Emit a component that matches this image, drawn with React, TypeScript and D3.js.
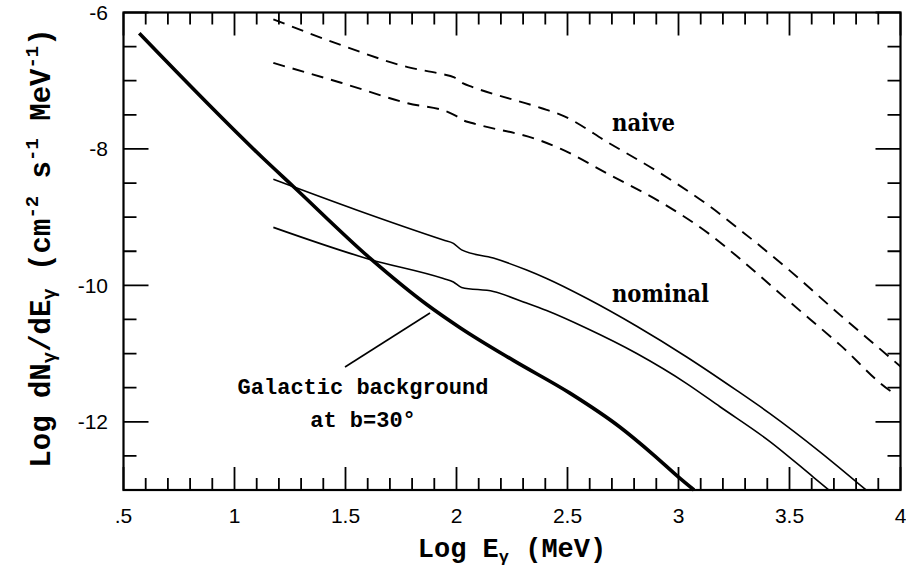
import React from 'react'
import * as d3 from 'd3'

// log E (MeV), log flux
const galactic: [number, number][] = [
  [0.571, -6.305], [1.13, -8.14], [1.265, -8.55], [1.61, -9.6], [1.866, -10.28],
  [2.016, -10.62], [2.256, -11.1], [2.511, -11.58], [2.737, -12.08], [2.886, -12.48],
  [3.007, -12.83], [3.07, -13.0],
]
const nominalUpper: [number, number][] = [
  [1.175, -8.446], [1.55, -8.896], [1.941, -9.336], [1.986, -9.384], [2.023, -9.48],
  [2.166, -9.6], [2.316, -9.776], [2.406, -9.9], [2.586, -10.19], [2.812, -10.6],
  [3.037, -11.05], [3.262, -11.54], [3.412, -11.88], [3.637, -12.44], [3.845, -13.0],
]
const nominalLower: [number, number][] = [
  [1.175, -9.15], [1.61, -9.62], [1.941, -9.9], [1.986, -9.95], [2.023, -10.03],
  [2.166, -10.09], [2.316, -10.26], [2.406, -10.37], [2.586, -10.63], [2.812, -11.0],
  [3.037, -11.44], [3.187, -11.78], [3.412, -12.29], [3.607, -12.81], [3.678, -13.0],
]
const naiveUpper: [number, number][] = [
  [1.175, -6.1], [1.5, -6.5], [1.78, -6.8], [1.93, -6.9], [1.99, -6.95], [2.03, -7.04],
  [2.07, -7.09], [2.38, -7.4], [2.47, -7.5], [2.69, -7.92], [2.92, -8.36], [3.14, -8.84],
  [3.29, -9.22], [3.5, -9.78], [3.73, -10.44], [3.95, -11.05], [4.0, -11.19],
]
const naiveLower: [number, number][] = [
  [1.175, -6.74], [1.48, -7.03], [1.78, -7.33], [1.97, -7.47], [2.0, -7.52], [2.03, -7.58],
  [2.07, -7.62], [2.38, -7.88], [2.47, -8.0], [2.69, -8.38], [2.92, -8.78], [3.14, -9.25],
  [3.28, -9.62], [3.5, -10.24], [3.73, -10.88], [3.96, -11.56], [3.98, -11.6],
]

const xTicks = [0.5, 1, 1.5, 2, 2.5, 3, 3.5, 4]
const xTickLabels = ['.5', '1', '1.5', '2', '2.5', '3', '3.5', '4']
const yTicks = [-6, -8, -10, -12]
const yTickLabels = ['-6', '-8', '-10', '-12']

const W = 906
const H = 569
const M = { left: 123.5, right: 900.5, top: 12.5, bottom: 490 }

const App = () => {
  const x = d3.scaleLinear().domain([0.5, 4]).range([M.left, M.right])
  const y = d3.scaleLinear().domain([-13, -6]).range([M.bottom, M.top])
  const curve = d3.line<[number, number]>()
    .x(d => x(d[0]))
    .y(d => y(d[1]))
    .curve(d3.curveMonotoneX)

  // inward ticks on all four sides: minors every 0.1 (x) / 0.5 (y), longer on the labelled values
  const xMinor = d3.range(36).map(i => 0.5 + i * 0.1)
  const yMinor = d3.range(15).map(i => -6 - i * 0.5)
  const majorLen = 23, minorLen = 12

  const mono = "'Liberation Mono', 'DejaVu Sans Mono', monospace"
  const sans = "'Liberation Sans', Arial, sans-serif"
  const serif = "'DejaVu Serif', serif"

  return (
    <svg width={W} height={H} style={{ position: 'absolute', left: 0, top: 0 }}>
      <rect x={0} y={0} width={W} height={H} fill="#fff" />

      <g stroke="#000" strokeWidth={1.8}>
        {xMinor.map((v, i) => {
          const len = i % 5 === 0 ? majorLen : minorLen
          return <path key={'xb' + i} d={`M${x(v)},${M.bottom}V${M.bottom - len}M${x(v)},${M.top}V${M.top + len}`} />
        })}
        {yMinor.map((v, i) => {
          const len = i % 4 === 0 ? majorLen + 2 : minorLen + 1
          return <path key={'yb' + i} d={`M${M.left},${y(v)}H${M.left + len}M${M.right},${y(v)}H${M.right - len}`} />
        })}
      </g>
      <rect x={M.left} y={M.top} width={M.right - M.left} height={M.bottom - M.top}
        fill="none" stroke="#000" strokeWidth={2.2} />

      {/* tick labels */}
      <g fontFamily={sans} fontSize={21} fill="#000">
        {xTicks.map((v, i) => (
          <text key={'xl' + i} x={x(v)} y={523} textAnchor="middle">{xTickLabels[i]}</text>
        ))}
        {yTicks.map((v, i) => (
          <text key={'yl' + i} x={108} y={y(v) + 7.5} textAnchor="end">{yTickLabels[i]}</text>
        ))}
      </g>

      {/* curves */}
      <g fill="none" stroke="#000">
        <path d={curve(naiveUpper) || ''} strokeWidth={1.9} strokeDasharray="12 8" />
        <path d={curve(naiveLower) || ''} strokeWidth={1.9} strokeDasharray="12 8" />
        <path d={curve(nominalUpper) || ''} strokeWidth={1.6} />
        <path d={curve(nominalLower) || ''} strokeWidth={1.6} />
        <path d={curve(galactic) || ''} strokeWidth={3.6} />
        <path d="M430,313L345,367" strokeWidth={1.6} />
      </g>

      {/* annotations */}
      <text x={612} y={131} fontFamily={serif} fontWeight="bold" fontSize={25}
        textLength={63} lengthAdjust="spacingAndGlyphs">naive</text>
      <text x={612} y={302} fontFamily={serif} fontWeight="bold" fontSize={25}
        textLength={97} lengthAdjust="spacingAndGlyphs">nominal</text>
      <g fontFamily={mono} fontWeight="bold" fontSize={22} textAnchor="middle">
        <text x={363} y={394}>Galactic background</text>
        <text x={363} y={427}>at b=30°</text>
      </g>

      {/* axis titles */}
      <text x={512} y={557} fontFamily={mono} fontWeight="bold" fontSize={27} textAnchor="middle">
        Log E<tspan fontSize={17} dy={5}>γ</tspan><tspan dy={-5}> (MeV)</tspan>
      </text>
      <text transform="translate(50,248) rotate(-90)" fontFamily={mono} fontWeight="bold" fontSize={29} textAnchor="middle">
        Log dN<tspan fontSize={19} dy={5}>γ</tspan>
        <tspan dy={-5}>/dE</tspan><tspan fontSize={19} dy={5}>γ</tspan>
        <tspan dy={-5}> (cm</tspan><tspan fontSize={19} dy={-12}>-2</tspan>
        <tspan dy={12}> s</tspan><tspan fontSize={19} dy={-12}>-1</tspan>
        <tspan dy={12}> MeV</tspan><tspan fontSize={19} dy={-12}>-1</tspan>
        <tspan dy={12}>)</tspan>
      </text>
    </svg>
  )
}

export default App
